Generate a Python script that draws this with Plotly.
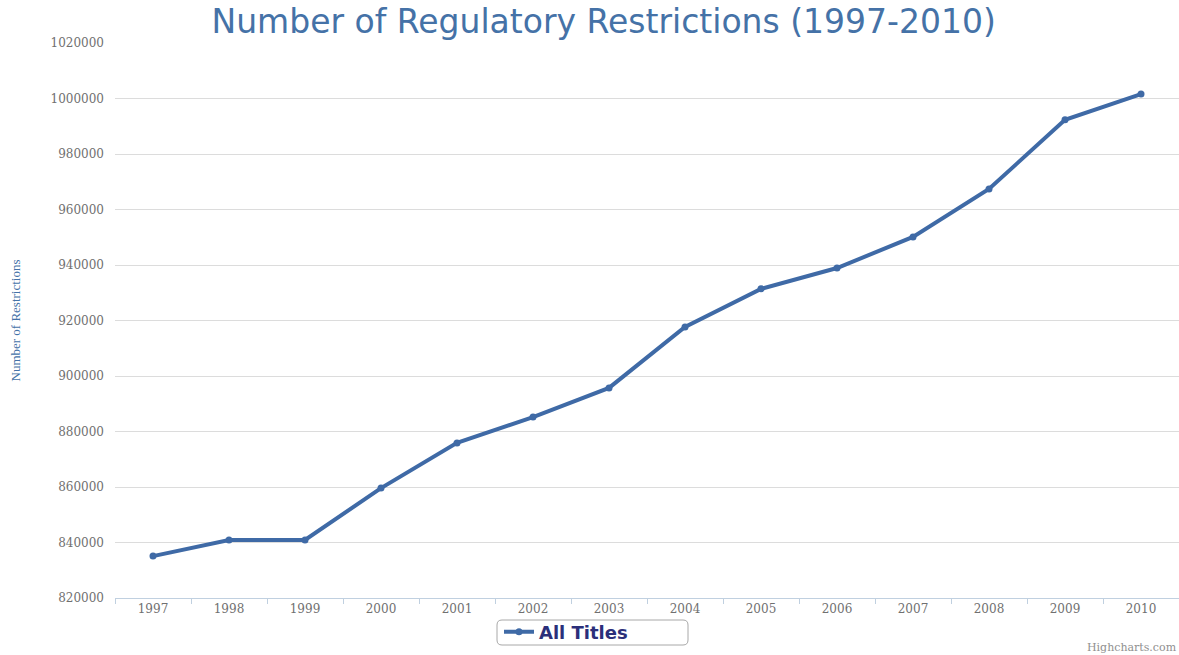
import plotly.graph_objects as go

years = ["1997", "1998", "1999", "2000", "2001", "2002", "2003",
         "2004", "2005", "2006", "2007", "2008", "2009", "2010"]
restrictions = [835100, 840900, 840900, 859600, 875900, 885200, 895700,
                917700, 931400, 938900, 950100, 967400, 992300, 1001600]
y_ticks = [820000, 840000, 860000, 880000, 900000, 920000, 940000, 960000,
           980000, 1000000, 1020000]

line_color = "#3f6aa6"

# plot area in pixels: x 115..1179, y 43..598
L, T, B, W, H = 115, 43, 57, 1064, 555


def px(x):
    return (x - L) / W


def py(y):
    return (598 - y) / H


fig = go.Figure()
fig.add_trace(go.Scatter(
    x=years, y=restrictions, mode="lines+markers", name="All Titles",
    line=dict(color=line_color, width=4),
    marker=dict(color=line_color, size=7),
))

# rounded legend frame
x0, x1, y0, y1 = px(497), px(688), py(645), py(620)
rx, ry = 5 / W, 5 / H
path = (f"M {x0+rx},{y0} L {x1-rx},{y0} Q {x1},{y0} {x1},{y0+ry} "
        f"L {x1},{y1-ry} Q {x1},{y1} {x1-rx},{y1} L {x0+rx},{y1} "
        f"Q {x0},{y1} {x0},{y1-ry} L {x0},{y0+ry} Q {x0},{y0} {x0+rx},{y0} Z")
fig.add_shape(type="path", path=path, xref="paper", yref="paper",
              line=dict(color="#a8a8a8", width=1), fillcolor="rgba(0,0,0,0)")

fig.update_layout(
    width=1179, height=655,
    paper_bgcolor="white", plot_bgcolor="white",
    margin=dict(l=L, r=0, t=T, b=B, autoexpand=False),
    title=dict(text="Number of Regulatory Restrictions (1997-2010)",
               x=0.512, xanchor="center", y=0.968, yanchor="middle",
               font=dict(family="DejaVu Sans", size=33, color="#4572a7")),
    showlegend=True,
    legend=dict(orientation="h", x=px(499), xanchor="left", y=py(632), yanchor="middle",
                borderwidth=0, bgcolor="rgba(0,0,0,0)",
                font=dict(family="DejaVu Sans", size=18, color="#2b2f7a", weight="bold"),
                itemwidth=30),
)
fig.update_xaxes(
    type="category", range=[-0.5, 13.5], automargin=False,
    showgrid=False, showline=True, linecolor="#c0d0e0", linewidth=1,
    ticks="outside", tickson="boundaries", ticklen=5, tickcolor="#c0d0e0",
    tickfont=dict(family="DejaVu Serif", size=12, color="#707070"),
)
fig.update_yaxes(
    range=[820000, 1020000], tickmode="array", tickvals=y_ticks, automargin=False,
    ticktext=[str(v) for v in y_ticks],
    showgrid=True, gridcolor="#dcdcdc", gridwidth=1, zeroline=False,
    showline=False, ticks="", ticklabelstandoff=10,
    tickfont=dict(family="DejaVu Serif", size=12, color="#707070"),
    title=dict(text="Number of Restrictions", standoff=26,
               font=dict(family="Liberation Serif", size=13, color="#4572a7")),
)
fig.add_annotation(text="Highcharts.com", xref="paper", yref="paper",
                   x=1.0, y=py(647), xanchor="right", yanchor="middle", showarrow=False,
                   font=dict(family="DejaVu Serif", size=11, color="#909090"))

fig.write_html("out.html", config={"displayModeBar": False},
               post_script="document.body.style.margin='0';")
